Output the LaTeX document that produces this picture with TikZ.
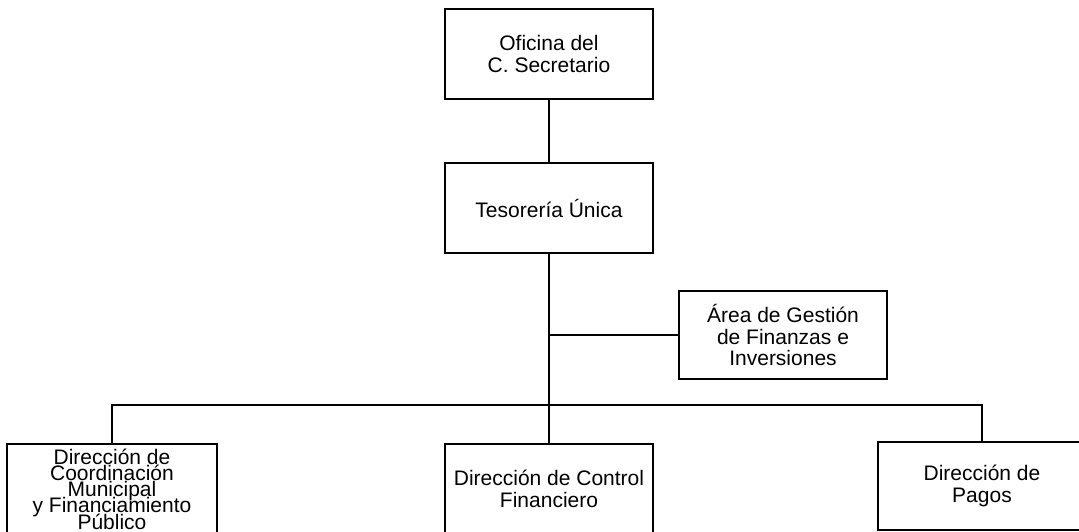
\documentclass[tikz,border=0pt]{standalone}
\usepackage{fontspec}
\setmainfont{Liberation Sans}
\usetikzlibrary{positioning}

\newcommand{\tightlines}{\lineskiplimit=-100pt\relax}

\begin{document}
\begin{tikzpicture}[
    x=1pt, y=-1pt,
    orgbox/.style={draw, line width=2pt, minimum width=208pt, minimum height=90pt, inner sep=2pt, outer sep=0pt, align=center, font=\fontsize{21}{21.7}\selectfont},
    tightbox/.style={orgbox, font=\fontsize{21}{16.3}\selectfont\tightlines},
    conn/.style={line width=2pt}
]

    % Page frame (bottom row is cut off)
    \clip (0,0) rectangle (1079,532);

    % Top of the chart
    \node[orgbox] (sec) at (549,54) {Oficina del\\C. Secretario};
    \node[orgbox, below=64pt of sec] (tes) {Tesorería Única};

    % Side unit
    \node[orgbox, minimum height=88pt] (area) at (783,335) {Área de Gestión\\de Finanzas e\\Inversiones};

    % Bottom row
    \node[tightbox, minimum width=210pt] (coord) at (112,489) {Dirección de\\Coordinación\\Municipal\\y Financiamiento\\Público};
    \node[orgbox] (ctrl) at (549,489) {Dirección de Control\\Financiero};
    \node[orgbox, minimum height=88pt] (pagos) at (982,486) {Dirección de\\Pagos};

    % Connectors
    \coordinate (bus) at (549,405);
    \draw[conn] (sec) -- (tes);
    \draw[conn] (tes.south) -- (ctrl.north);
    \draw[conn] (area.west) -- (area.west -| tes.south);
    \draw[conn] (coord.north) |- (bus) -| (pagos.north);

\end{tikzpicture}
\end{document}
